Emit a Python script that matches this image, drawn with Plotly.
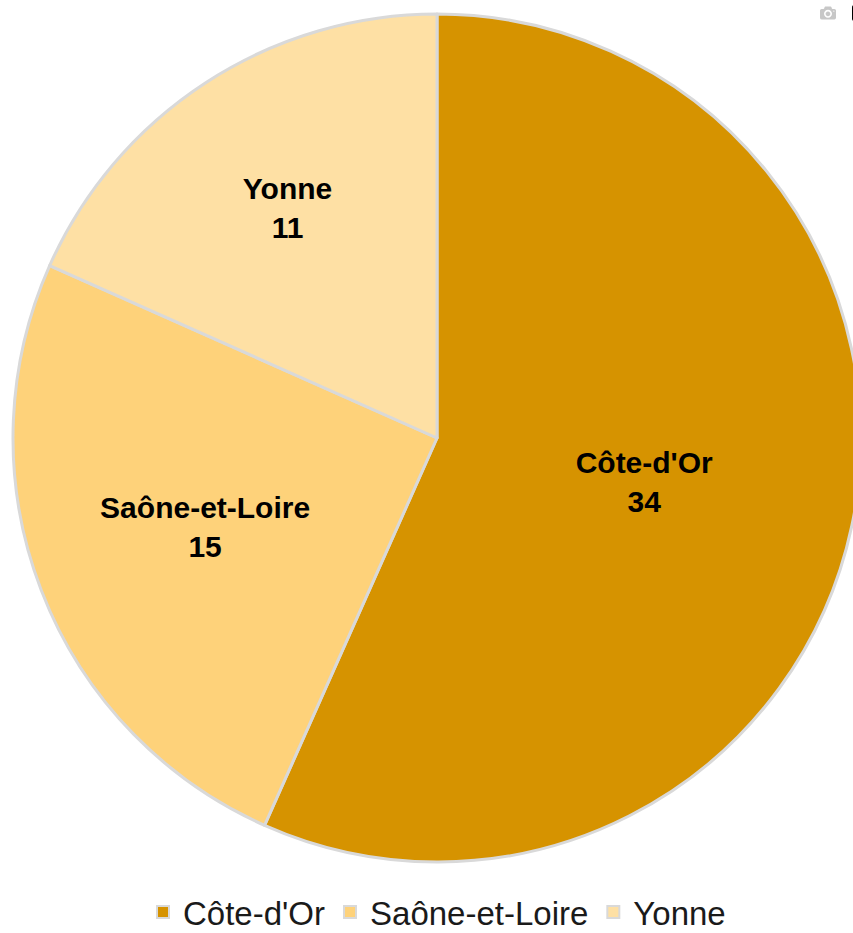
import plotly.graph_objects as go

categories = ["Côte-d'Or", "Saône-et-Loire", "Yonne"]
values = [34, 15, 11]
colors = ["#D69300", "#FED27A", "#FEE0A4"]

W, H = 874, 933

fig = go.Figure(go.Pie(
    labels=categories,
    values=values,
    sort=False,
    direction="clockwise",
    rotation=0,
    marker=dict(colors=colors, line=dict(color="#D9D9D9", width=3)),
    texttemplate="<b>%{label}</b><br><b>%{value}</b>",
    textposition="inside",
    insidetextorientation="horizontal",
    textfont=dict(family="Liberation Sans, Arial, sans-serif", size=30, color="#000000"),
    domain=dict(x=[0, 1], y=[(H - 862) / H, (H - 14) / H]),
    hoverinfo="label+value",
))

fig.update_layout(
    width=W,
    height=H,
    margin=dict(l=0, r=0, t=0, b=0, autoexpand=False),
    paper_bgcolor="white",
    plot_bgcolor="white",
    showlegend=True,
    legend=dict(
        orientation="h",
        x=437 / W,
        xanchor="center",
        y=(H - 912) / H,
        yanchor="middle",
        font=dict(family="Liberation Sans, Arial, sans-serif", size=33, color="#1a1a1a"),
        itemsizing="constant",
    ),
)

fig.write_html(
    "out.html",
    post_script="document.body.style.margin='0';document.body.style.overflow='hidden';",
)
